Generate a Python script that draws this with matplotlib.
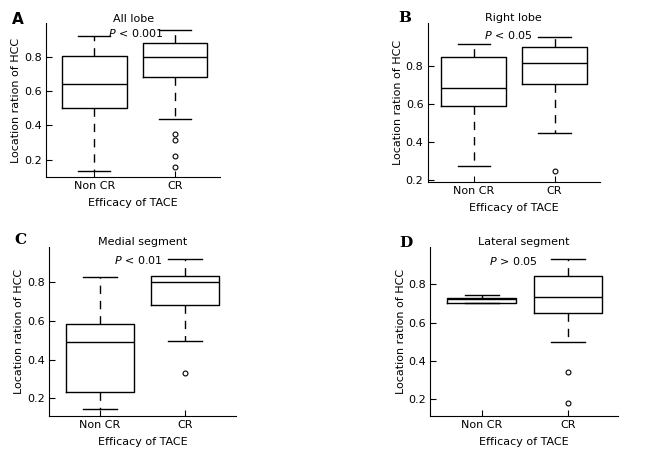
import matplotlib
matplotlib.use("Agg")
import matplotlib.pyplot as plt

# Location ratio of HCC by efficacy of TACE (box statistics)
groups = ["Non CR", "CR"]
titles = ["All lobe", "Right lobe", "Medial segment", "Lateral segment"]
pvals = ["< 0.001", "< 0.05", "< 0.01", "> 0.05"]
letters = ["A", "B", "C", "D"]

# per panel: [Non CR, CR] -> (whislo, q1, med, q3, whishi)
all_lobe = [(0.136, 0.502, 0.640, 0.806, 0.918), (0.440, 0.681, 0.800, 0.877, 0.953)]
right_lobe = [(0.275, 0.588, 0.683, 0.849, 0.919), (0.447, 0.704, 0.816, 0.901, 0.956)]
medial = [(0.145, 0.231, 0.493, 0.586, 0.829), (0.498, 0.681, 0.800, 0.834, 0.922)]
lateral = [(0.701, 0.701, 0.724, 0.727, 0.743), (0.501, 0.649, 0.732, 0.845, 0.932)]

all_lobe_out = [[], [0.349, 0.318, 0.221, 0.157]]
right_lobe_out = [[], [0.249]]
medial_out = [[], [0.333]]
lateral_out = [[], [0.344, 0.183]]

panels = [all_lobe, right_lobe, medial, lateral]
outliers = [all_lobe_out, right_lobe_out, medial_out, lateral_out]

# layout (figure fractions) and axis limits per panel
rects = [[0.0713, 0.611, 0.270, 0.338],
         [0.663, 0.601, 0.267, 0.348],
         [0.0755, 0.0864, 0.2905, 0.3716],
         [0.667, 0.0857, 0.291, 0.3723]]
ylims = [(0.10, 0.995), (0.193, 1.026), (0.11, 0.984), (0.113, 0.997)]
xlims = [(0.40, 2.56), (0.43, 2.56), (0.40, 2.60), (0.40, 2.58)]
title_y = [19, 18, 242, 242]
p_pos = [(136, 33), (508, 35), (138, 260), (513, 261)]
letter_pos = [(12, 19), (398, 18), (14, 240), (399, 243)]

fig = plt.figure(figsize=(6.45, 4.55), dpi=100)
W, H = 645.0, 455.0

for i in range(4):
    ax = fig.add_axes(rects[i])
    stats = []
    for j, g in enumerate(groups):
        lo, q1, med, q3, hi = panels[i][j]
        stats.append(dict(label=g, whislo=lo, q1=q1, med=med, q3=q3,
                          whishi=hi, fliers=outliers[i][j]))
    ax.bxp(stats, positions=[1, 2], widths=0.8, capwidths=0.4,
           boxprops=dict(color="black", linewidth=1.0),
           medianprops=dict(color="black", linewidth=1.0),
           whiskerprops=dict(color="black", linewidth=1.0, linestyle=(0, (6, 5))),
           capprops=dict(color="black", linewidth=1.0),
           flierprops=dict(marker="o", markersize=3.5, markerfacecolor="none",
                           markeredgecolor="black", markeredgewidth=0.8))
    ax.set_xlim(*xlims[i])
    ax.set_ylim(*ylims[i])
    ax.set_yticks([0.2, 0.4, 0.6, 0.8])
    ax.set_yticklabels(["0.2", "0.4", "0.6", "0.8"])
    ax.spines["top"].set_visible(False)
    ax.spines["right"].set_visible(False)
    ax.tick_params(direction="in", length=4, labelsize=8, pad=3)
    ax.set_ylabel("Location ration of HCC", fontsize=8, labelpad=2)
    ax.set_xlabel("Efficacy of TACE", fontsize=8, labelpad=5)

    cx = (rects[i][0] + rects[i][2] * 0.5)
    fig.text(cx, 1 - title_y[i] / H, titles[i], fontsize=8, ha="center", va="center")
    fig.text(p_pos[i][0] / W, 1 - p_pos[i][1] / H, "$P$ " + pvals[i],
             fontsize=8, ha="center", va="center")
    fam = "DejaVu Sans" if i == 0 else "DejaVu Serif"
    fig.text(letter_pos[i][0] / W, 1 - letter_pos[i][1] / H, letters[i],
             fontsize=11, fontweight="bold", family=fam, ha="left", va="center")

fig.savefig("out.png", dpi=100)
